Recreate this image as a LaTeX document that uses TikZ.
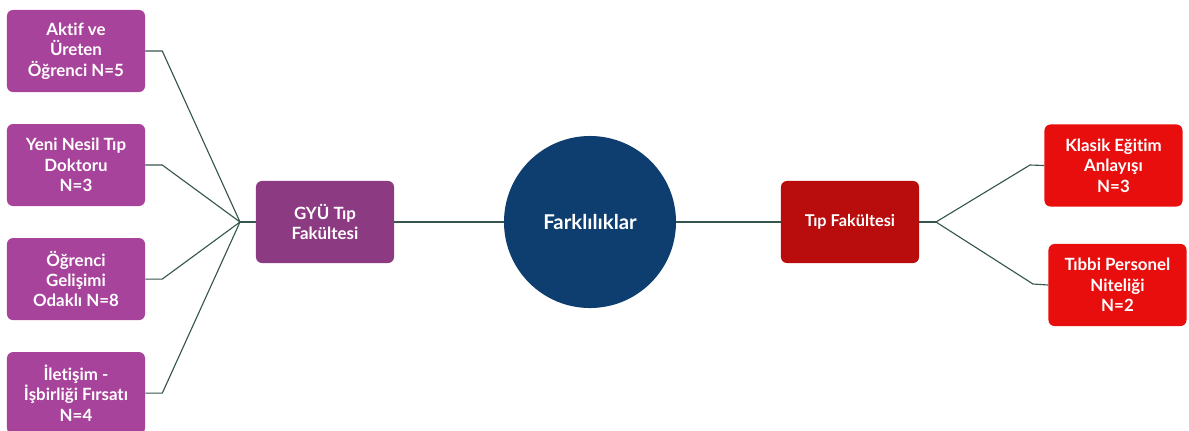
\documentclass[tikz,border=0pt]{standalone}
\usepackage{fontspec}
\setmainfont{Lato}[Ligatures=NoCommon]
\usetikzlibrary{positioning}
\definecolor{leftbox}{HTML}{A8439B}
\definecolor{gyubox}{HTML}{8C3A82}
\definecolor{midcirc}{HTML}{0E3D6F}
\definecolor{tipbox}{HTML}{B90C0C}
\definecolor{rightbox}{HTML}{E80E0E}
\definecolor{linec}{HTML}{35554F}

\begin{document}
\begin{tikzpicture}[x=0.025cm, y=-0.025cm, node distance=2.85cm,
    box/.style={rectangle, rounded corners=0.15cm, minimum width=3.45cm, minimum height=2.05cm, inner sep=0pt, align=center, text=white, font=\bfseries\fontsize{12}{14.5}\selectfont},
    conn/.style={draw=linec, line width=0.8pt}]
    \useasboundingbox (0,0) rectangle (1189,430);
    % Nodes
    \node (aktif) [box, fill=leftbox] at (76,51) {Aktif ve\\ Üreten\\ Öğrenci N=5};
    \node (yeni) [box, fill=leftbox, below of=aktif] {Yeni Nesil Tıp\\ Doktoru\\ N=3};
    \node (gelisim) [box, fill=leftbox, below of=yeni] {Öğrenci\\ Gelişimi\\ Odaklı N=8};
    \node (iletisim) [box, fill=leftbox, below of=gelisim] {İletişim -\\ İşbirliği Fırsatı\\ N=4};
    \node (gyu) [box, fill=gyubox] at (325,222) {GYÜ Tıp\\ Fakültesi};
    \node (fark) [circle, fill=midcirc, minimum size=4.3cm, inner sep=0pt, text=white, font=\bfseries\fontsize{14.5}{17}\selectfont] at (590,222) {Farklılıklar};
    \node (tip) [box, fill=tipbox, font=\bfseries\fontsize{11.6}{14}\selectfont] at (850,222) {Tıp Fakültesi};
    \node (klasik) [box, fill=rightbox] at (1113.5,165.5) {Klasik Eğitim\\ Anlayışı\\ N=3};
    \node (tibbi) [box, fill=rightbox] at (1117.5,285) {Tıbbi Personel\\ Niteliği\\ N=2};
    \coordinate (lhub) at (240,222);
    \coordinate (rhub) at (936,222);
    % Arrows
    \draw[conn] (aktif.east) -- ++(17,0) -- (lhub);
    \draw[conn] (yeni.east) -- ++(17,0) -- (lhub);
    \draw[conn] (gelisim.east) -- ++(17,0) -- (lhub);
    \draw[conn] (iletisim.east) -- ++(17,0) -- (lhub);
    \draw[conn] (lhub) -- (gyu.west);
    \draw[conn] (gyu) -- (fark);
    \draw[conn] (fark) -- (tip);
    \draw[conn] (tip.east) -- (rhub);
    \draw[conn] (rhub) -- ++(94,-57) -- (klasik.west);
    \draw[conn] (rhub) -- ++(97,62) -- (tibbi.west);
\end{tikzpicture}
\end{document}
